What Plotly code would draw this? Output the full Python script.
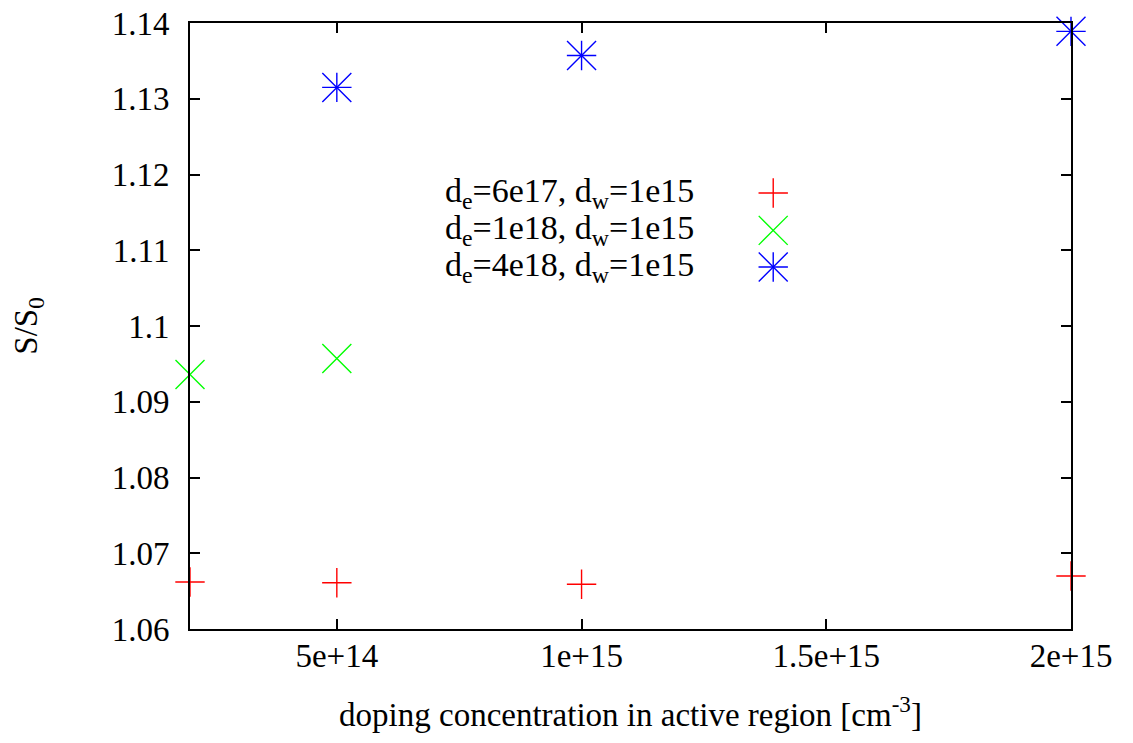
import plotly.graph_objects as go

# doping concentration in the active region [cm^-3]
x_red = [2e14, 5e14, 1e15, 2e15]
y_red = [1.0662, 1.0661, 1.0659, 1.0670]

x_green = [2e14, 5e14]
y_green = [1.0936, 1.0957]

x_blue = [5e14, 1e15, 2e15]
y_blue = [1.1315, 1.1357, 1.1389]

series_names = [
    "d<sub>e</sub>=6e17, d<sub>w</sub>=1e15",
    "d<sub>e</sub>=1e18, d<sub>w</sub>=1e15",
    "d<sub>e</sub>=4e18, d<sub>w</sub>=1e15",
]

x_tickvals = [5e14, 1e15, 1.5e15, 2e15]
x_ticktext = ["5e+14", "1e+15", "1.5e+15", "2e+15"]
y_tickvals = [1.06, 1.07, 1.08, 1.09, 1.10, 1.11, 1.12, 1.13, 1.14]
y_ticktext = ["1.06", "1.07", "1.08", "1.09", "1.1", "1.11", "1.12", "1.13", "1.14"]

RED, GREEN, BLUE = "#ff0000", "#00ff00", "#0000ff"
FONT = "Liberation Serif"
FS = 33
LW = 1.4


def sym(kind, color):
    """gnuplot-like point types built from plotly thin symbols."""
    plus = dict(symbol="cross-thin-open", size=21, color=color,
                line=dict(color=color, width=LW))
    cross = dict(symbol="x-thin-open", size=29, color=color,
                 line=dict(color=color, width=LW))
    if kind == "plus":
        return [plus]
    if kind == "cross":
        return [cross]
    # asterisk = plus + cross
    return [plus, cross]


fig = go.Figure()

groups = [
    (x_red, y_red, "plus", RED),
    (x_green, y_green, "cross", GREEN),
    (x_blue, y_blue, "star", BLUE),
]

for xs, ys, kind, col in groups:
    for m in sym(kind, col):
        fig.add_trace(go.Scatter(x=xs, y=ys, mode="markers", marker=m,
                                 cliponaxis=False, showlegend=False,
                                 hoverinfo="x+y"))

# key: labels on the left, point samples on the right (gnuplot style)
key_marker_x = 0.662
key_text_x = 0.574
key_rows_y = [0.7195, 0.6578, 0.5974]

for (xs, ys, kind, col), name, ky in zip(groups, series_names, key_rows_y):
    for m in sym(kind, col):
        fig.add_trace(go.Scatter(x=[key_marker_x], y=[ky], mode="markers",
                                 marker=m, xaxis="x2", yaxis="y2",
                                 showlegend=False, hoverinfo="skip",
                                 cliponaxis=False))
    fig.add_annotation(text=name, xref="paper", yref="paper",
                       x=key_text_x, y=ky, xanchor="right", yanchor="middle",
                       showarrow=False, font=dict(family=FONT, size=34, color="black"))

axis_common = dict(
    showgrid=False, zeroline=False, showline=True, linecolor="black",
    linewidth=2, mirror="ticks", ticks="inside", ticklen=10, tickwidth=1.5,
    tickcolor="black", tickfont=dict(family=FONT, size=FS, color="black"),
    automargin=False,
)

fig.update_layout(
    width=1133, height=743,
    margin=dict(l=190, r=62, t=23, b=114),
    paper_bgcolor="white", plot_bgcolor="white",
    font=dict(family=FONT, size=FS, color="black"),
    xaxis=dict(range=[2e14, 2e15], tickvals=x_tickvals, ticktext=x_ticktext,
               ticklabelstandoff=-4,
               title=dict(text="doping concentration in active region [cm<sup>-3</sup>]",
                          font=dict(family=FONT, size=FS), standoff=30),
               **axis_common),
    yaxis=dict(range=[1.06, 1.14], tickvals=y_tickvals, ticktext=y_ticktext,
               ticklabelstandoff=12,
               title=dict(text="S/S<sub>0</sub>", font=dict(family=FONT, size=FS),
                          standoff=64),
               **axis_common),
    xaxis2=dict(overlaying="x", range=[0, 1], visible=False),
    yaxis2=dict(overlaying="y", range=[0, 1], visible=False),
    showlegend=False,
)

fig.write_html("out.html")
